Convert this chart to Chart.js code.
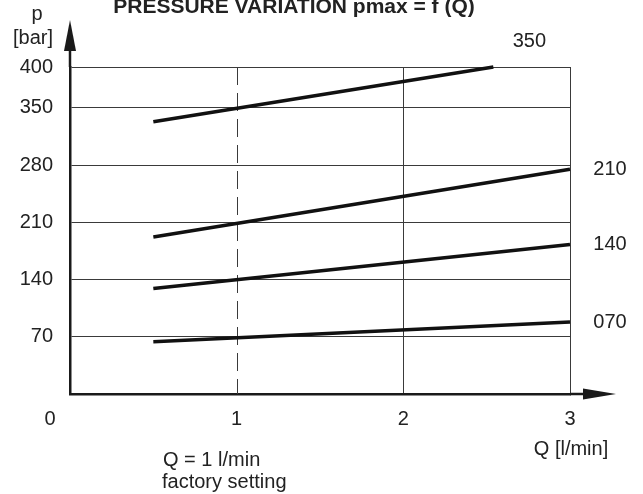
<!DOCTYPE html>
<html>
<head>
<meta charset="utf-8">
<script src="https://cdn.jsdelivr.net/npm/chart.js@4/dist/chart.umd.min.js"></script>
<style>
  html, body { margin: 0; padding: 0; background: #fff; }
  canvas { display: block; }
</style>
</head>
<body>
<canvas id="chart" width="643" height="494"></canvas>
<script>
// series names (pressure setting) and their start / end points
const seriesNames = ['350', '210', '140', '070'];
const flowStart = [0.5, 0.5, 0.5, 0.5];
const flowEnd   = [2.54, 3, 3, 3];
const pStart    = [333, 192, 129, 64];
const pEnd      = [400, 275, 183, 88];

const xTicks = [0, 1, 2, 3];
const yTicks = [70, 140, 210, 280, 350, 400];
const factoryFlow = 1;

const INK  = '#1a1a1a';
const GRID = '#3a3a3a';
const TEXT = '#222';
const FONT = "'Liberation Sans', Arial, sans-serif";

Chart.defaults.font.family = FONT;
Chart.defaults.color = TEXT;

const datasets = seriesNames.map((name, i) => ({
    label: name,
    data: [
        { x: flowStart[i], y: pStart[i] },
        { x: flowEnd[i], y: pEnd[i] }
    ],
    showLine: true,
    borderColor: '#111',
    borderWidth: 3.5,
    pointRadius: 0,
    clip: false
}));

const decor = {
    id: 'decor',
    beforeDatasetsDraw(chart) {
        const { ctx, chartArea: a, scales: { x } } = chart;
        // dashed line at factory setting
        const fx = Math.round(x.getPixelForValue(factoryFlow)) + 0.5;
        ctx.save();
        ctx.strokeStyle = GRID;
        ctx.lineWidth = 1;
        ctx.setLineDash([18, 8]);
        ctx.beginPath();
        ctx.moveTo(fx, a.top);
        ctx.lineTo(fx, a.bottom);
        ctx.stroke();
        ctx.restore();
    },
    afterDraw(chart) {
        const { ctx, chartArea: a, scales: { x, y } } = chart;
        ctx.save();
        ctx.fillStyle = INK;
        ctx.strokeStyle = INK;
        ctx.lineWidth = 2.5;

        // y axis arrow
        ctx.beginPath();
        ctx.moveTo(a.left, a.top);
        ctx.lineTo(a.left, 48);
        ctx.stroke();
        ctx.beginPath();
        ctx.moveTo(a.left, 20);
        ctx.lineTo(a.left - 6, 51);
        ctx.lineTo(a.left + 6, 51);
        ctx.closePath();
        ctx.fill();

        // x axis arrow
        ctx.beginPath();
        ctx.moveTo(a.right, a.bottom);
        ctx.lineTo(586, a.bottom);
        ctx.stroke();
        ctx.beginPath();
        ctx.moveTo(616, a.bottom);
        ctx.lineTo(583, a.bottom - 5.5);
        ctx.lineTo(583, a.bottom + 5.5);
        ctx.closePath();
        ctx.fill();

        ctx.fillStyle = TEXT;
        // title
        ctx.font = 'bold 21px ' + FONT;
        ctx.textAlign = 'center';
        ctx.textBaseline = 'alphabetic';
        ctx.fillText('PRESSURE VARIATION pmax = f (Q)', 294, 13);

        ctx.font = '20px ' + FONT;
        ctx.fillText('p', 37, 20);
        ctx.fillText('[bar]', 33, 44);

        ctx.textBaseline = 'middle';
        ctx.fillText('0', 50, 419);
        ctx.fillText('Q [l/min]', 571, 449);

        // series labels near line ends
        seriesNames.forEach((name, i) => {
            const ex = x.getPixelForValue(flowEnd[i]);
            const ey = y.getPixelForValue(pEnd[i]);
            if (flowEnd[i] < 3) {
                ctx.fillText(name, ex + 36, ey - 26);
            } else {
                ctx.fillText(name, 610, ey);
            }
        });

        ctx.textAlign = 'left';
        ctx.textBaseline = 'alphabetic';
        ctx.fillText('Q = 1 l/min', 163, 466);
        ctx.fillText('factory setting', 162, 488);
        ctx.restore();
    }
};

new Chart(document.getElementById('chart'), {
    type: 'scatter',
    data: { datasets },
    options: {
        responsive: false,
        animation: false,
        events: [],
        layout: { padding: { left: 0, top: 67, right: 73, bottom: 0 } },
        plugins: {
            legend: { display: false },
            tooltip: { enabled: false }
        },
        scales: {
            x: {
                type: 'linear',
                min: 0,
                max: 3,
                afterFit: s => { s.height = 100; },
                afterBuildTicks: s => { s.ticks = xTicks.map(v => ({ value: v })); },
                ticks: {
                    padding: 13,
                    color: TEXT,
                    font: { size: 20, lineHeight: 1.2 },
                    callback: v => (v === 0 ? '' : String(v))
                },
                grid: {
                    drawTicks: false,
                    lineWidth: 1,
                    color: c => (c.tick && (c.tick.value === 0 || c.tick.value === factoryFlow) ? 'rgba(0,0,0,0)' : GRID)
                },
                border: { color: INK, width: 2.5 }
            },
            y: {
                type: 'linear',
                min: 0,
                max: 400,
                afterFit: s => { s.width = 70; },
                afterBuildTicks: s => { s.ticks = yTicks.map(v => ({ value: v })); },
                ticks: {
                    padding: 17,
                    color: TEXT,
                    font: { size: 20 }
                },
                grid: {
                    drawTicks: false,
                    lineWidth: 1,
                    color: GRID
                },
                border: { color: INK, width: 2.5 }
            }
        }
    },
    plugins: [decor]
});
</script>
</body>
</html>
